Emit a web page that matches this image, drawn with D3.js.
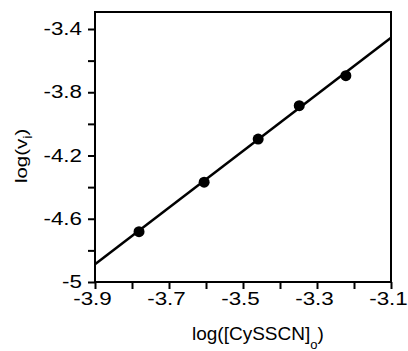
<!DOCTYPE html>
<html>
<head>
<meta charset="utf-8">
<script src="https://cdn.jsdelivr.net/npm/d3@7"></script>
<style>
  body { margin: 0; background: #fff; }
  text { font-family: "Liberation Sans", Arial, sans-serif; fill: #000; }
</style>
</head>
<body>
<svg id="chart" width="408" height="351"></svg>
<script>
// measured points
var logConc = [-3.781, -3.605, -3.459, -3.348, -3.222];
var logRate = [-4.682, -4.369, -4.096, -3.885, -3.695];
// fitted line, end points
var fitX = [-3.9, -3.1];
var fitY = [-4.888, -3.455];

var xTicks = [-3.9, -3.7, -3.5, -3.3, -3.1];
var xMinor = [-3.8, -3.6, -3.4, -3.2];
var yTicks = [-5, -4.6, -4.2, -3.8, -3.4];
var yMinor = [-4.8, -4.4, -4.0, -3.6];

var svg = d3.select('#chart');
var pLeft = 95, pRight = 391, pTop = 12, pBottom = 282;
var stretch = 1.28; // tick labels in the figure are wide

var x = d3.scaleLinear().domain([-3.9, -3.1]).range([pLeft, pRight]);
var y = d3.scaleLinear().domain([-5, -3.4]).range([pBottom, 29]);

function fmt(d) { return String(d).replace('−', '-'); }

// frame
svg.append('rect')
  .attr('x', pLeft).attr('y', pTop)
  .attr('width', pRight - pLeft).attr('height', pBottom - pTop)
  .attr('fill', 'none').attr('stroke', '#000').attr('stroke-width', 2);

var xAxis = svg.append('g').attr('transform', 'translate(0,' + pBottom + ')')
  .call(d3.axisBottom(x).tickValues(xTicks.concat(xMinor)).tickSize(7)
    .tickFormat(function(d){ return xTicks.indexOf(d) >= 0 ? fmt(d) : ''; }));
xAxis.select('.domain').remove();
xAxis.selectAll('line').attr('stroke-width', 2);
xAxis.selectAll('text')
  .attr('font-size', 17.5).attr('y', 23).attr('dy', 0).attr('x', -3 / stretch)
  .attr('transform', 'scale(' + stretch + ',1)')
  .style('font-family', '"Liberation Sans", Arial, sans-serif');

var yAxis = svg.append('g').attr('transform', 'translate(' + pLeft + ',0)')
  .call(d3.axisLeft(y).tickValues(yTicks.concat(yMinor)).tickSize(7)
    .tickFormat(function(d){ return yTicks.indexOf(d) >= 0 ? fmt(d) : ''; }));
yAxis.select('.domain').remove();
yAxis.selectAll('line').attr('stroke-width', 2);
yAxis.selectAll('text')
  .attr('font-size', 17.5).attr('x', -13 / stretch)
  .attr('transform', 'scale(' + stretch + ',1)')
  .style('font-family', '"Liberation Sans", Arial, sans-serif');

// fit line
var line = d3.line().x(function(d){ return x(d[0]); }).y(function(d){ return y(d[1]); });
svg.append('path')
  .datum(d3.zip(fitX, fitY))
  .attr('d', line)
  .attr('fill', 'none').attr('stroke', '#000').attr('stroke-width', 2.5);

// points
svg.selectAll('circle.pt')
  .data(d3.zip(logConc, logRate))
  .enter().append('circle')
  .attr('class', 'pt')
  .attr('cx', function(d){ return x(d[0]); })
  .attr('cy', function(d){ return y(d[1]); })
  .attr('r', 5.5)
  .attr('fill', '#000');

// axis titles
var xt = svg.append('text').attr('x', 192).attr('y', 339.5).attr('font-size', 19);
xt.append('tspan').text('log([CySSCN]');
xt.append('tspan').attr('font-size', 13).attr('dy', 9).text('o');
xt.append('tspan').attr('dy', -9).text(')');

var yt = svg.append('text').attr('transform', 'translate(27,183) rotate(-90) scale(1.2,1)').attr('font-size', 17);
yt.append('tspan').text('log(v');
yt.append('tspan').attr('font-size', 12).attr('dy', 5).text('i');
yt.append('tspan').attr('dy', -5).text(')');
</script>
</body>
</html>
